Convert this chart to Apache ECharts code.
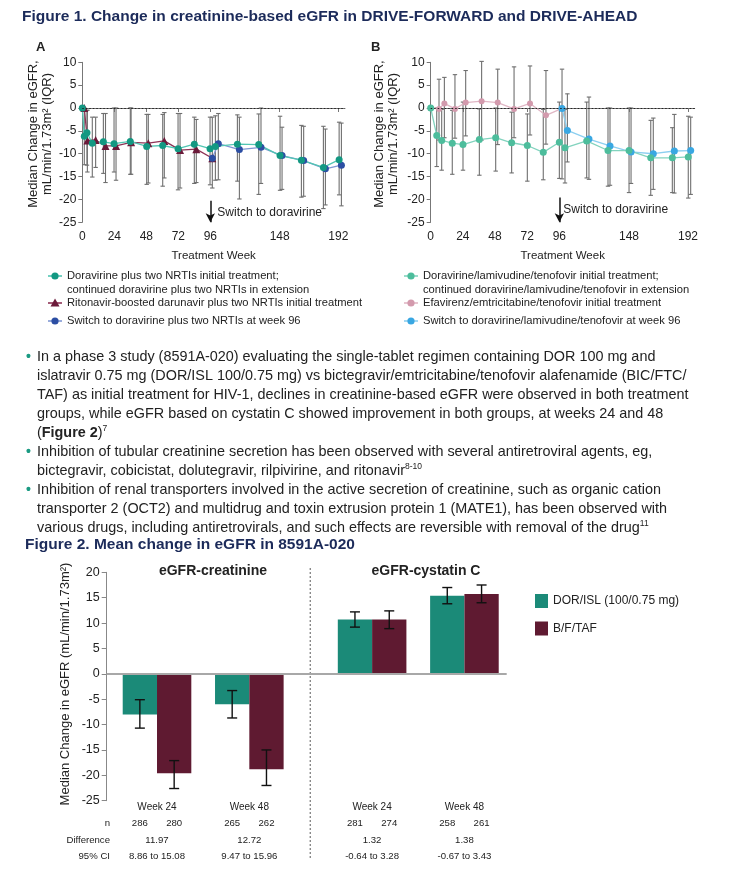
<!DOCTYPE html>
<html><head><meta charset="utf-8">
<script src="https://cdn.jsdelivr.net/npm/echarts@6/dist/echarts.min.js"></script>
<style>html,body{margin:0;padding:0;background:#fff}#c{width:738px;height:882px}</style>
</head><body><div id="c"></div><script>
// ===== Figure 1A (DRIVE-FORWARD) : plotted week, median, Q1, Q3 =====
const weekTicks = [0, 24, 48, 72, 96, 148, 192];
const aDorWeek = [0, 1.5, 3.5, 7.5, 15.8, 23.8, 36, 48.3, 60.3, 71.8, 84, 95.8, 99.8, 116.3, 132.3, 148.3, 164.3, 180.8, 192.6];
const aDorMed  = [0, -6.2, -5.4, -7.7, -7.4, -7.8, -7.3, -8.4, -8.2, -8.9, -7.9, -8.9, -8.4, -7.9, -8.0, -10.4, -11.4, -13.0, -11.3];
const aDorQ1   = [0, -12.4, -12.5, -15.1, -14.3, -14.0, -14.5, -16.7, -17.1, -17.9, -16.5, -16.8, -15.8, -16.0, -18.9, -18.0, -19.5, -22.0, -19.0];
const aDorQ3   = [0, 0, -0.5, -2.0, -1.2, 0, 0, -1.4, -1.4, -1.2, -2.0, -2.0, -1.7, -1.5, -1.3, -1.8, -3.8, -4.0, -3.1];
const aDrvWeek = [1.5, 3.8, 10, 17.4, 25.3, 36.6, 49.5, 61.5, 73.3, 85.5, 97.5];
const aDrvMed  = [0, -7.1, -7.0, -8.3, -8.3, -7.5, -7.7, -7.2, -9.2, -9.0, -11.0];
const aDrvQ1   = [0, -14.0, -13.0, -16.3, -15.8, -14.5, -16.4, -15.3, -17.5, -16.3, -17.5];
const aDrvQ3   = [0, -0.5, -2.0, -1.2, 0, 0, -1.4, -1.0, -1.2, -2.5, -2.0];
const aSwWeek  = [97.5, 102, 117.8, 134, 149.8, 166, 182.3, 194.3];
const aSwMed   = [-11.0, -7.8, -9.1, -8.6, -10.4, -11.5, -13.3, -12.5];
const aSwQ1    = [-11.0, -15.7, -19.9, -16.5, -17.8, -19.3, -21.2, -21.4];
const aSwQ3    = [-11.0, -1.2, -2.0, 0, -4.2, -4.0, -4.6, -3.3];
// ===== Figure 1B (DRIVE-AHEAD) =====
const bDorWeek = [0, 4.5, 8.2, 16.1, 24.1, 36.3, 48.5, 60.4, 72.1, 84, 96, 100.2, 116.4, 132.3, 148, 164.2, 180.3, 192.2];
const bDorMed  = [0, -6.0, -7.1, -7.7, -8.0, -6.9, -6.5, -7.6, -8.2, -9.7, -7.5, -8.7, -7.2, -9.3, -9.3, -10.9, -10.9, -10.7];
const bDorQ1   = [0, -12.8, -13.6, -14.5, -13.6, -14.7, -13.8, -14.2, -16.0, -15.7, -15.4, -16.4, -15.3, -17.1, -18.5, -19.1, -18.5, -19.7];
const bDorQ3   = [0, 0, -0.3, -0.5, 1.3, -0.2, 0, -0.9, -1.3, -0.3, 1.3, -0.3, 1.3, 0, 0, -2.7, -4.3, -1.8];
const bEfvWeek = [0, 6.2, 10.2, 18.1, 26.1, 38, 50, 62.2, 74.1, 86, 98];
const bEfvMed  = [0, -0.2, 1.0, -0.2, 1.2, 1.5, 1.2, -0.2, 1.0, -1.6, -0.1];
const bEfvQ1   = [0, -7.0, -6.5, -6.6, -6.1, -7.0, -8.0, -6.5, -5.9, -7.9, -15.5];
const bEfvQ3   = [0, 6.3, 6.7, 7.3, 8.2, 10.2, 8.5, 9.0, 9.2, 8.2, 8.5];
const bSwWeek  = [98, 102, 118.1, 133.8, 149.5, 166.1, 181.8, 194];
const bSwMed   = [-0.1, -4.9, -6.8, -8.3, -9.6, -10.0, -9.4, -9.3];
const bSwQ1    = [-0.1, -11.8, -15.6, -16.9, -16.5, -17.8, -18.6, -18.9];
const bSwQ3    = [-0.1, 3.1, 2.4, 0, 0, -2.2, -1.4, -2.0];
// ===== Figure 2 (8591A-020) =====
const f2Groups   = ['Week 24', 'Week 48', 'Week 24', 'Week 48'];
const f2GroupPos = [1, 2, 3.33, 4.33];
const f2DorMean = [-8.0, -6.0, 10.7, 15.4];
const f2DorLo   = [-10.7, -8.7, 9.2, 13.8];
const f2DorHi   = [-5.1, -3.3, 12.2, 17.0];
const f2BfMean  = [-19.6, -18.8, 10.7, 15.7];
const f2BfLo    = [-22.6, -22.0, 8.9, 14.0];
const f2BfHi    = [-17.1, -15.0, 12.4, 17.5];
const f2nDor = [286, 265, 281, 258];
const f2nBf  = [280, 262, 274, 261];
const f2Diff = ['11.97', '12.72', '1.32', '1.38'];
const f2CI   = ['8.86 to 15.08', '9.47 to 15.96', '-0.64 to 3.28', '-0.67 to 3.43'];

const F = '"Liberation Sans", Arial, sans-serif';
const zip = (a,b)=>a.map((v,i)=>[v,b[i]]);
const zip3 = (a,b,c)=>a.map((v,i)=>[v,b[i],c[i]]);

function errRender(cap, color, lw, pxOff){
  return function(params, api){
    const x = api.value(0), lo = api.value(1), hi = api.value(2);
    if (lo === hi) return null;
    const p1 = api.coord([x, lo]), p2 = api.coord([x, hi]);
    const xx = p1[0] + (pxOff||0);
    const st = {stroke: color, lineWidth: lw};
    return {type:'group', children:[
      {type:'line', shape:{x1:xx,y1:p1[1],x2:xx,y2:p2[1]}, style:st},
      {type:'line', shape:{x1:xx-cap,y1:p1[1],x2:xx+cap,y2:p1[1]}, style:st},
      {type:'line', shape:{x1:xx-cap,y1:p2[1],x2:xx+cap,y2:p2[1]}, style:st}
    ]};
  };
}
const ERR = '#6f6f6f';
function errSeries(gi, w, lo, hi){
  return {type:'custom', xAxisIndex:gi, yAxisIndex:gi, renderItem: errRender(2.2, ERR, 1.1), data: zip3(w, lo, hi), encode:{x:0, y:[1,2]}, silent:true, z:1};
}
function lineSeries(gi, name, w, m, mk, ln, sym, sz, extra){
  return Object.assign({type:'line', name, xAxisIndex:gi, yAxisIndex:gi, data: zip(w,m), symbol: sym, symbolSize: sz,
    showSymbol:true, itemStyle:{color: mk}, lineStyle:{color: ln, width: 1.3}, z:3, silent:true}, extra||{});
}
const zeroDotted = {silent:true, symbol:['none','none'], label:{show:false}, lineStyle:{color:'#222', type:[1.5,2], width:1}, data:[{yAxis:0}]};
function arrowML(y0){ return {silent:true, symbol:['none','arrow'], symbolSize:[7,9], label:{show:false}, lineStyle:{color:'#111', type:'solid', width:1.5}, data:[[{coord:[96,y0]},{coord:[96,-25]}]]}; }

function xAx1(gi){ return {type:'value', gridIndex:gi, min:0, max:197,
  axisLine:{lineStyle:{color:'#777'}}, axisTick:{show:true, length:4, lineStyle:{color:'#777'}, customValues: weekTicks},
  axisLabel:{color:'#222', fontSize:12, fontFamily:F, margin:8, customValues: weekTicks},
  splitLine:{show:false}, name:'Treatment Week', nameLocation:'middle', nameGap:28,
  nameTextStyle:{color:'#222', fontSize:11.5, fontFamily:F}}; }
function yAx1(gi){ return {type:'value', gridIndex:gi, min:-25, max:10, interval:5,
  axisLine:{show:true, lineStyle:{color:'#777'}}, axisTick:{show:true, length:4, lineStyle:{color:'#777'}},
  axisLabel:{color:'#222', fontSize:12, fontFamily:F, margin:6}, splitLine:{show:false}}; }

const BW = 34.3;
const option = {
  animation:false,
  textStyle:{fontFamily:F},
  grid:[
    {left:82.3, top:62.3, width:262.7, height:160},
    {left:430.7, top:62.3, width:264, height:160},
    {left:106.7, top:572.3, width:400, height:228.4}
  ],
  xAxis:[ xAx1(0), xAx1(1),
    {type:'value', gridIndex:2, min:0.455, max:4.788, axisLine:{show:false}, axisTick:{show:false}, splitLine:{show:false},
     axisLabel:{customValues: f2GroupPos, margin:2, color:'#222', fontSize:10, fontFamily:F,
       formatter:(v)=>{let bi=0;f2GroupPos.forEach((p,i)=>{if(Math.abs(p-v)<Math.abs(f2GroupPos[bi]-v))bi=i;});return f2Groups[bi];}}}
  ],
  yAxis:[ yAx1(0), yAx1(1),
    {type:'value', gridIndex:2, min:-25, max:20, interval:5, axisLine:{show:true, lineStyle:{color:'#888'}},
     axisTick:{show:true, length:5, lineStyle:{color:'#888'}}, axisLabel:{color:'#222', fontSize:12.5, fontFamily:F, margin:7}, splitLine:{show:false}}
  ],
  legend:[{show:true, data:['DOR/ISL (100/0.75 mg)','B/F/TAF'], orient:'vertical', left:530, top:589, itemWidth:13, itemHeight:14, itemGap:13.5,
    icon:'rect', textStyle:{color:'#222', fontSize:12, fontFamily:F}, selectedMode:false}],
  series:[
    errSeries(0, aDorWeek, aDorQ1, aDorQ3),
    errSeries(0, aDrvWeek, aDrvQ1, aDrvQ3),
    errSeries(0, aSwWeek, aSwQ1, aSwQ3),
    lineSeries(0, 'Ritonavir-boosted darunavir plus two NRTIs initial treatment', aDrvWeek, aDrvMed, '#6b1a3a', '#8e3356', 'triangle', 8, {markLine: arrowML(-20.3)}),
    lineSeries(0, 'Switch to doravirine plus two NRTIs at week 96', aSwWeek, aSwMed, '#2c4ea3', '#7f97d3', 'circle', 7),
    lineSeries(0, 'Doravirine plus two NRTIs', aDorWeek, aDorMed, '#139882', '#52c6b3', 'circle', 7, {markLine: zeroDotted}),
    errSeries(1, bDorWeek, bDorQ1, bDorQ3),
    errSeries(1, bEfvWeek, bEfvQ1, bEfvQ3),
    errSeries(1, bSwWeek, bSwQ1, bSwQ3),
    lineSeries(1, 'Efavirenz/emtricitabine/tenofovir initial treatment', bEfvWeek, bEfvMed, '#d39aad', '#e0b7c5', 'circle', 6, {markLine: arrowML(-19.6)}),
    lineSeries(1, 'Switch to doravirine/lamivudine/tenofovir at week 96', bSwWeek, bSwMed, '#39a7e2', '#8ccff0', 'circle', 7),
    lineSeries(1, 'Doravirine/lamivudine/tenofovir', bDorWeek, bDorMed, '#4dbd9c', '#82d3be', 'circle', 7, {markLine: zeroDotted}),
    {type:'bar', name:'DOR/ISL (100/0.75 mg)', xAxisIndex:2, yAxisIndex:2, data: zip(f2GroupPos, f2DorMean), barWidth:BW, barGap:'0%',
      itemStyle:{color:'#1b8a78'}, silent:true,
      markLine:{silent:true, symbol:['none','none'], label:{show:false}, lineStyle:{color:'#a8a8a8', type:'solid', width:2}, data:[{yAxis:0}]}},
    {type:'bar', name:'B/F/TAF', xAxisIndex:2, yAxisIndex:2, data: zip(f2GroupPos, f2BfMean), barWidth:BW, barGap:'0%',
      itemStyle:{color:'#5f1a31'}, silent:true},
    {type:'custom', xAxisIndex:2, yAxisIndex:2, renderItem: errRender(5, '#111', 1.4, -BW/2), data: zip3(f2GroupPos, f2DorLo, f2DorHi), encode:{x:0,y:[1,2]}, silent:true, z:5},
    {type:'custom', xAxisIndex:2, yAxisIndex:2, renderItem: errRender(5, '#111', 1.4, BW/2), data: zip3(f2GroupPos, f2BfLo, f2BfHi), encode:{x:0,y:[1,2]}, silent:true, z:5}
  ]
};
const chart = echarts.init(document.getElementById('c'));
chart.setOption(option);

// ===== annotations / text =====
const G = [];
const NAVY = '#1c2b5a', TXT = '#222';
function txt(x,y,t,font,extra){ G.push({type:'text', x, y, silent:true, style:Object.assign({text:t, font, fill:TXT, align:'left', verticalAlign:'middle'}, extra||{})}); }
function px(gi, pt){ return chart.convertToPixel({gridIndex:gi}, pt); }

txt(22, 17, 'Figure 1. Change in creatinine-based eGFR in DRIVE-FORWARD and DRIVE-AHEAD', 'bold 15.5px '+F, {fill:NAVY});
txt(36, 47, 'A', 'bold 13px '+F);
txt(371, 47, 'B', 'bold 13px '+F);
G.push({type:'text', x:40, y:134, rotation:Math.PI/2, silent:true, style:{text:'Median Change in eGFR,\nmL/min/1.73m² (IQR)', font:'13px '+F, lineHeight:14, fill:TXT, align:'center', verticalAlign:'middle'}});
G.push({type:'text', x:386, y:134, rotation:Math.PI/2, silent:true, style:{text:'Median Change in eGFR,\nmL/min/1.73m² (IQR)', font:'13px '+F, lineHeight:14, fill:TXT, align:'center', verticalAlign:'middle'}});
let p = px(0, [96, -22.8]); txt(p[0]+7, p[1], 'Switch to doravirine', '12px '+F);
p = px(1, [96, -22.3]); txt(p[0]+4, p[1], 'Switch to doravirine', '12px '+F);

const LF = '11.2px ' + F;
function legItem(x, y, mk, ln, shape, lines){
  G.push({type:'line', silent:true, shape:{x1:x-7,y1:y,x2:x+7,y2:y}, style:{stroke:ln, lineWidth:1.6}});
  if (shape==='tri') G.push({type:'polygon', silent:true, shape:{points:[[x,y-4.5],[x-4.5,y+3.5],[x+4.5,y+3.5]]}, style:{fill:mk}});
  else G.push({type:'circle', silent:true, shape:{cx:x, cy:y, r:3.6}, style:{fill:mk}});
  lines.forEach((l,i)=>txt(x+12, y+i*13.5, l, LF));
}
legItem(55, 276, '#139882', '#52c6b3', 'c', ['Doravirine plus two NRTIs initial treatment;', 'continued doravirine plus two NRTIs in extension']);
legItem(55, 303, '#6b1a3a', '#8e3356', 'tri', ['Ritonavir-boosted darunavir plus two NRTIs initial treatment']);
legItem(55, 321, '#2c4ea3', '#7f97d3', 'c', ['Switch to doravirine plus two NRTIs at week 96']);
legItem(411, 276, '#4dbd9c', '#82d3be', 'c', ['Doravirine/lamivudine/tenofovir initial treatment;', 'continued doravirine/lamivudine/tenofovir in extension']);
legItem(411, 303, '#d39aad', '#e0b7c5', 'c', ['Efavirenz/emtricitabine/tenofovir initial treatment']);
legItem(411, 321, '#39a7e2', '#8ccff0', 'c', ['Switch to doravirine/lamivudine/tenofovir at week 96']);

// bullets
const bulletLines = [
  ['•', 'In a phase 3 study (8591A-020) evaluating the single-tablet regimen containing DOR 100 mg and'],
  ['', 'islatravir 0.75 mg (DOR/ISL 100/0.75 mg) vs bictegravir/emtricitabine/tenofovir alafenamide (BIC/FTC/'],
  ['', 'TAF) as initial treatment for HIV-1, declines in creatinine-based eGFR were observed in both treatment'],
  ['', 'groups, while eGFR based on cystatin C showed improvement in both groups, at weeks 24 and 48'],
  ['', '({b|Figure 2}){s|7}'],
  ['•', 'Inhibition of tubular creatinine secretion has been observed with several antiretroviral agents, eg,'],
  ['', 'bictegravir, cobicistat, dolutegravir, rilpivirine, and ritonavir{s|8-10}'],
  ['•', 'Inhibition of renal transporters involved in the active secretion of creatinine, such as organic cation'],
  ['', 'transporter 2 (OCT2) and multidrug and toxin extrusion protein 1 (MATE1), has been observed with'],
  ['', 'various drugs, including antiretrovirals, and such effects are reversible with removal of the drug{s|11}']
];
const bFont = '14.4px ' + F;
bulletLines.forEach((b,i)=>{
  const y = 357 + i*19;
  if (b[0]) txt(26, y, '•', 'bold 14px '+F, {fill:'#1a9a82'});
  G.push({type:'text', x:37, y, silent:true, style:{text:b[1], font:bFont, fill:TXT, align:'left', verticalAlign:'middle',
    rich:{b:{font:'bold '+bFont, fill:TXT}, s:{font:'8.5px '+F, fill:TXT, verticalAlign:'top', lineHeight:17}}}});
});

txt(25, 545, 'Figure 2. Mean change in eGFR in 8591A-020', 'bold 15.5px '+F, {fill:NAVY});
txt(213, 571, 'eGFR-creatinine', 'bold 14px '+F, {align:'center'});
txt(426, 571, 'eGFR-cystatin C', 'bold 14px '+F, {align:'center'});
G.push({type:'text', x:65, y:684, rotation:Math.PI/2, silent:true, style:{text:'Median Change in eGFR (mL/min/1.73m²)', font:'13px '+F, fill:TXT, align:'center', verticalAlign:'middle'}});
const sepX = px(2, [2.66, 0])[0];
G.push({type:'line', silent:true, shape:{x1:sepX, y1:568, x2:sepX, y2:860}, style:{stroke:'#777', lineWidth:1.2, lineDash:[2,2]}});

// table under figure 2
const TF = '9.6px ' + F;
const rowY = [823, 840, 856];
txt(110, rowY[0], 'n', TF, {align:'right'});
txt(110, rowY[1], 'Difference', TF, {align:'right'});
txt(110, rowY[2], '95% CI', TF, {align:'right'});
f2GroupPos.forEach((g,i)=>{
  const cx = px(2, [g, 0])[0];
  txt(cx - BW/2, rowY[0], String(f2nDor[i]), TF, {align:'center'});
  txt(cx + BW/2, rowY[0], String(f2nBf[i]), TF, {align:'center'});
  txt(cx, rowY[1], f2Diff[i], TF, {align:'center'});
  txt(cx, rowY[2], f2CI[i], TF, {align:'center'});
});
chart.setOption({graphic: G});
</script></body></html>
